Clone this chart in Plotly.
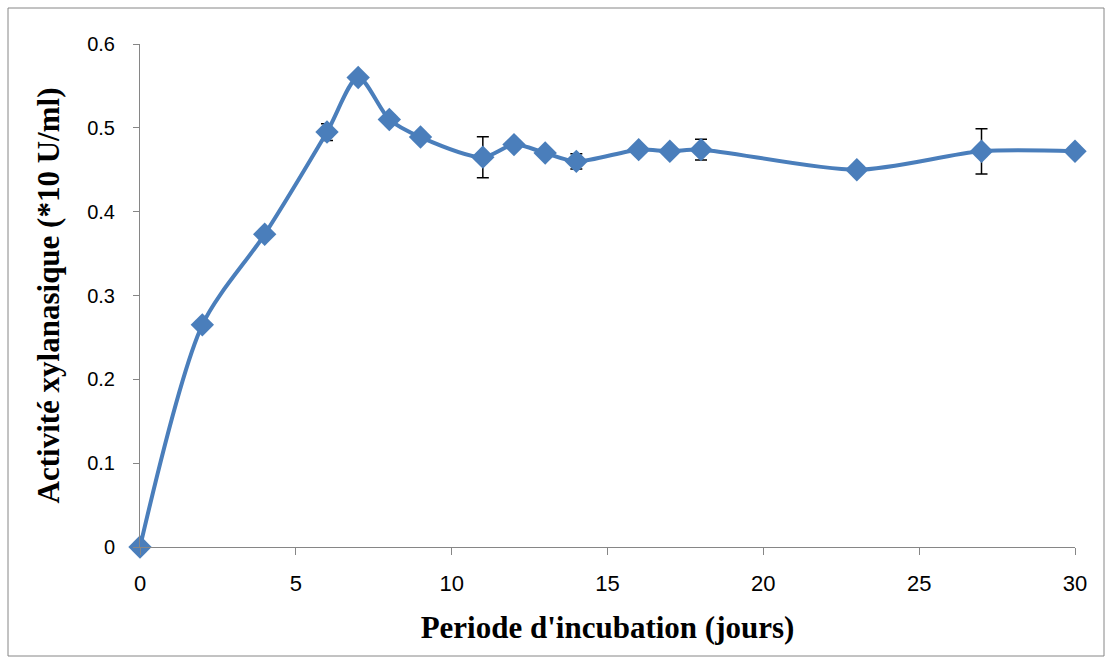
import plotly.graph_objects as go

days = [0, 2, 4, 6, 7, 8, 9, 11, 12, 13, 14, 16, 17, 18, 23, 27, 30]
activity = [0.0, 0.265, 0.373, 0.495, 0.560, 0.510, 0.489, 0.465, 0.480, 0.470, 0.460,
            0.474, 0.472, 0.474, 0.450, 0.472, 0.472]
errors = [0.0, 0.0, 0.0, 0.010, 0.003, 0.005, 0.0, 0.0245, 0.004, 0.0, 0.009,
          0.0, 0.0, 0.0125, 0.0, 0.027, 0.0]

x_ticks = [0, 5, 10, 15, 20, 25, 30]
y_ticks = [0, 0.1, 0.2, 0.3, 0.4, 0.5, 0.6]
y_tick_labels = ["0", "0.1", "0.2", "0.3", "0.4", "0.5", "0.6"]

W, H = 1108, 659
L, R, T, B = 140, 33, 44, 112

fig = go.Figure()
fig.add_trace(go.Scatter(
    x=days, y=activity, mode="lines+markers",
    line=dict(color="#4A7EBB", width=4, shape="spline", smoothing=0.8),
    marker=dict(symbol="diamond", size=18, color="#4A7EBB"),
    error_y=dict(type="data", array=errors, visible=True, color="black",
                 thickness=1.5, width=6),
    showlegend=False,
    cliponaxis=False,
))

pw = W - L - R
ph = H - T - B
fig.add_shape(type="rect", xref="paper", yref="paper",
              x0=(8 - L) / pw, x1=(1104 - L) / pw,
              y0=(H - B - 656) / ph, y1=(H - B - 8) / ph,
              line=dict(color="#868686", width=1), layer="below")

fig.update_layout(
    width=W, height=H,
    margin=dict(l=L, r=R, t=T, b=B),
    plot_bgcolor="white", paper_bgcolor="white",
    xaxis=dict(range=[0, 30], tickvals=x_ticks, showgrid=False, zeroline=False,
               showline=True, linecolor="#868686", linewidth=1,
               ticks="outside", ticklen=7, tickcolor="#868686",
               ticklabelstandoff=10,
               tickfont=dict(family="Liberation Sans Narrow, Liberation Sans, sans-serif", size=22, color="black"),
               title=dict(text="<b>Periode d'incubation (jours)</b>",
                          font=dict(family="Liberation Serif, Times New Roman, serif", size=31, color="black"),
                          standoff=20)),
    yaxis=dict(range=[0, 0.6], tickvals=y_ticks, ticktext=y_tick_labels, showgrid=False,
               zeroline=False, showline=True, linecolor="#868686", linewidth=1,
               ticks="outside", ticklen=6, tickcolor="#868686",
               ticklabelstandoff=14,
               tickfont=dict(family="Liberation Sans, sans-serif", size=20, color="black"),
               title=dict(text="<b>Activité xylanasique (*10 U/ml)</b>",
                          font=dict(family="Liberation Serif, Times New Roman, serif", size=31, color="black"),
                          standoff=18)),
)

fig.write_html("out.html", config={"displayModeBar": False},
               post_script="document.body.style.margin='0';document.body.style.padding='0';")
